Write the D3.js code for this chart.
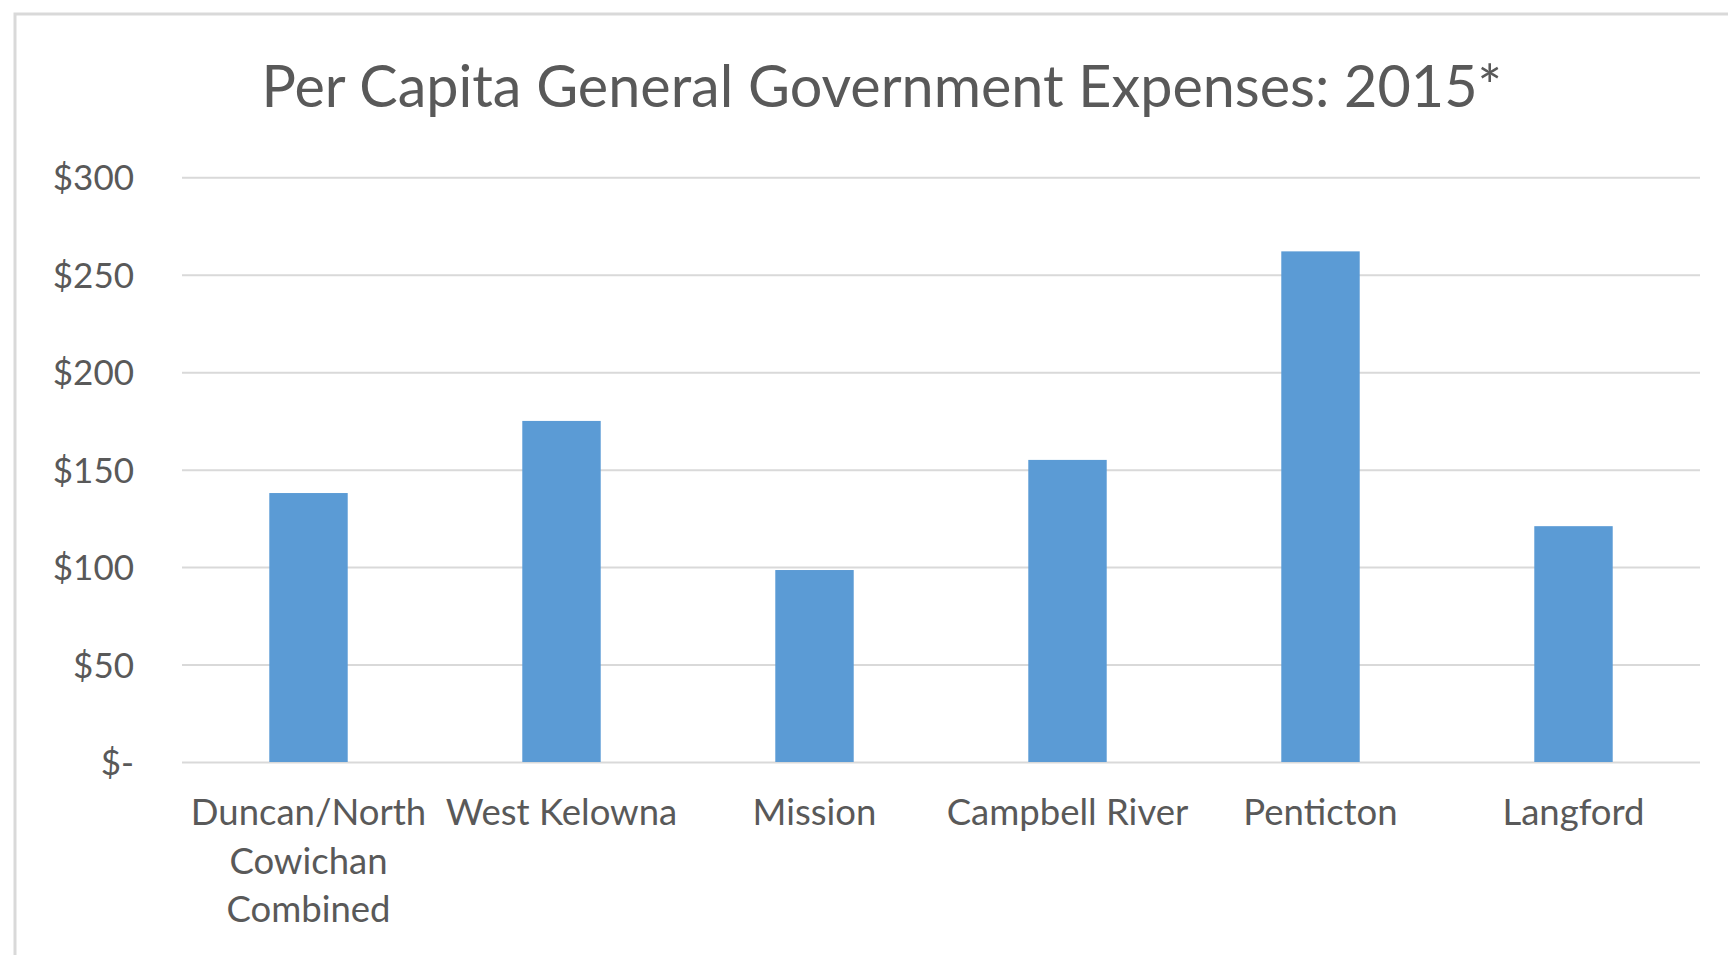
<!DOCTYPE html>
<html><head><meta charset="utf-8">
<script src="https://cdn.jsdelivr.net/npm/d3@7"></script>
<style>body{margin:0;background:#fff;overflow:hidden;} svg{display:block;}</style>
</head><body><svg id="chart" width="1728" height="955"></svg>
<script>
const title = "Per Capita General Government Expenses: 2015*";
const categories = ["Duncan/North Cowichan Combined", "West Kelowna", "Mission", "Campbell River", "Penticton", "Langford"];
const categoryLines = [["Duncan/North", "Cowichan", "Combined"], ["West Kelowna"], ["Mission"], ["Campbell River"], ["Penticton"], ["Langford"]];
const values = [138, 175, 98.5, 155, 262, 121];
const yTicks = [0, 50, 100, 150, 200, 250, 300];
const yTickLabels = ["$-", "$50", "$100", "$150", "$200", "$250", "$300"];

const svg = d3.select("#chart");
const W = 1728, H = 955;
const m = {left: 182, right: 1700, top: 177.3, bottom: 762};
const FONT = "Lato, 'Open Sans', sans-serif";
const TXT = "#595959";

// outer chart border (partly cropped)
svg.append("path")
  .attr("d", `M15,${H} L15,14 L${W},14`)
  .attr("fill", "none").attr("stroke", "#d9d9d9").attr("stroke-width", 3);

const x = d3.scaleBand().domain(categories).range([m.left, m.right])
  .paddingInner(0.69).paddingOuter(0.345);
const y = d3.scaleLinear().domain([0, 300]).range([m.bottom, m.top]);

// gridlines + y labels
const yAxis = d3.axisLeft(y).tickValues(yTicks)
  .tickSize(-(m.right - m.left)).tickPadding(48)
  .tickFormat((d, i) => yTickLabels[i]);
const gy = svg.append("g").attr("transform", `translate(${m.left},0)`).call(yAxis);
gy.select(".domain").remove();
gy.selectAll(".tick line").attr("stroke", "#d9d9d9").attr("stroke-width", 2);
gy.selectAll(".tick text").attr("fill", TXT).attr("font-family", FONT)
  .attr("font-size", 35).attr("dy", "0.36em");

// bars
svg.append("g").selectAll("rect").data(values).join("rect")
  .attr("x", (d, i) => x(categories[i]))
  .attr("width", x.bandwidth())
  .attr("y", d => y(d))
  .attr("height", d => y(0) - y(d))
  .attr("fill", "#5b9bd5");

// x labels
const gx = svg.append("g");
categoryLines.forEach((lines, i) => {
  const cx = x(categories[i]) + x.bandwidth() / 2;
  const t = gx.append("text").attr("text-anchor", "middle")
    .attr("fill", TXT).attr("font-family", FONT).attr("font-size", 36.5);
  lines.forEach((ln, j) => {
    t.append("tspan").attr("x", cx).attr("y", 825 + j * 48.5).text(ln);
  });
});

// title
svg.append("text").attr("x", 881.7).attr("y", 107)
  .attr("text-anchor", "middle").attr("fill", TXT)
  .attr("font-family", FONT).attr("font-size", 57.5).text(title);
</script>
</body></html>
